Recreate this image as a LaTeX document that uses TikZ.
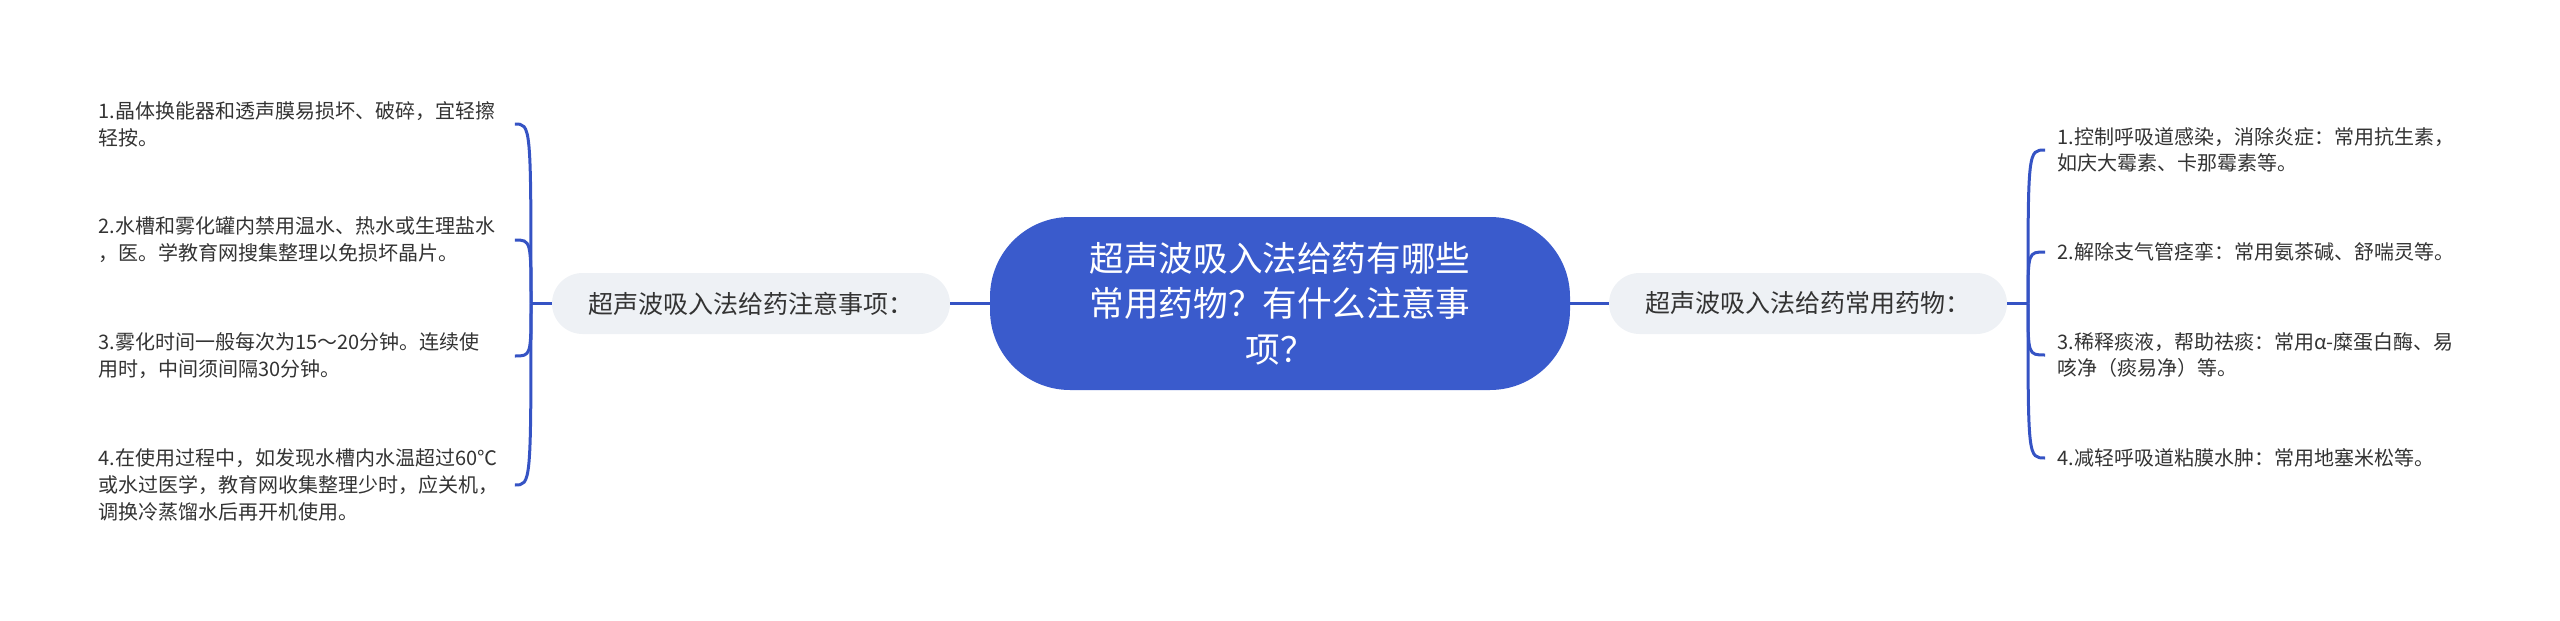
\documentclass[tikz,border=0pt]{standalone}
\usepackage{fontspec}
\setmainfont{Noto Sans CJK SC}
\definecolor{rootblue}{HTML}{3A5BCC}
\definecolor{linkblue}{HTML}{3553C4}
\definecolor{midgray}{HTML}{EEF1F5}
\definecolor{txt}{HTML}{333333}
\tikzset{
  rootnode/.style={fill=rootblue, rounded corners=40pt, minimum width=290pt, minimum height=86.5pt,
    text=white, font=\fontsize{17.3pt}{22.75pt}\selectfont, align=center, inner sep=0pt},
  midnode/.style={fill=midgray, rounded corners=15.25pt, minimum width=199pt, minimum height=30.5pt,
    text=txt, font=\fontsize{12.5pt}{15pt}\selectfont, inner sep=0pt},
  leafL/.style={text=txt, font=\fontsize{10pt}{13.5pt}\selectfont, text width=208pt, align=left,
    inner sep=0pt, anchor=west},
  leafR/.style={text=txt, font=\fontsize{10pt}{13.2pt}\selectfont, text width=200pt, align=left,
    inner xsep=6pt, inner ysep=0pt, anchor=west},
  link/.style={draw=linkblue, line width=1.5pt}
}
\begin{document}
\begin{tikzpicture}[x=0.5pt,y=-0.5pt]
\useasboundingbox (0,0) rectangle (2560,621);
\node[rootnode] (root) at (1280,303.5) {超声波吸入法给药有哪些\\常用药物？有什么注意事\\项？};
\node[midnode] (L) at (751,303.5) {超声波吸入法给药注意事项：};
\node[midnode] (R) at (1808,303.5) {超声波吸入法给药常用药物：};

\node[leafL] (l1) at (98,124) {1.晶体换能器和透声膜易损坏、破碎，宜轻擦\\轻按。};
\node[leafL] (l2) at (98,240) {2.水槽和雾化罐内禁用温水、热水或生理盐水\\，医。学教育网搜集整理以免损坏晶片。};
\node[leafL] (l3) at (98,356) {3.雾化时间一般每次为15～20分钟。连续使\\用时，中间须间隔30分钟。};
\node[leafL] (l4) at (98,485) {4.在使用过程中，如发现水槽内水温超过60℃\\或水过医学，教育网收集整理少时，应关机，\\调换冷蒸馏水后再开机使用。};

\node[leafR] (r1) at (2045,150) {1.控制呼吸道感染，消除炎症：常用抗生素，\\如庆大霉素、卡那霉素等。};
\node[leafR] (r2) at (2045,252) {2.解除支气管痉挛：常用氨茶碱、舒喘灵等。};
\node[leafR] (r3) at (2045,355) {3.稀释痰液，帮助祛痰：常用α-糜蛋白酶、易\\咳净（痰易净）等。};
\node[leafR] (r4) at (2045,458) {4.减轻呼吸道粘膜水肿：常用地塞米松等。};

\coordinate (jl) at (531,303.5);
\coordinate (jr) at (2028,303.5);

\draw[link] (root.west) -- (L.east);
\draw[link] (root.east) -- (R.west);
\draw[link] (L.west) -- (jl);
\draw[link] (R.east) -- (jr);
\foreach \n in {l1,l2,l3,l4}{
  \draw[link] (jl) .. controls (jl |- \n.east) .. (\n.east);
}
\foreach \n in {r1,r2,r3,r4}{
  \draw[link] (jr) .. controls (jr |- \n.west) .. (\n.west);
}
\end{tikzpicture}
\end{document}
